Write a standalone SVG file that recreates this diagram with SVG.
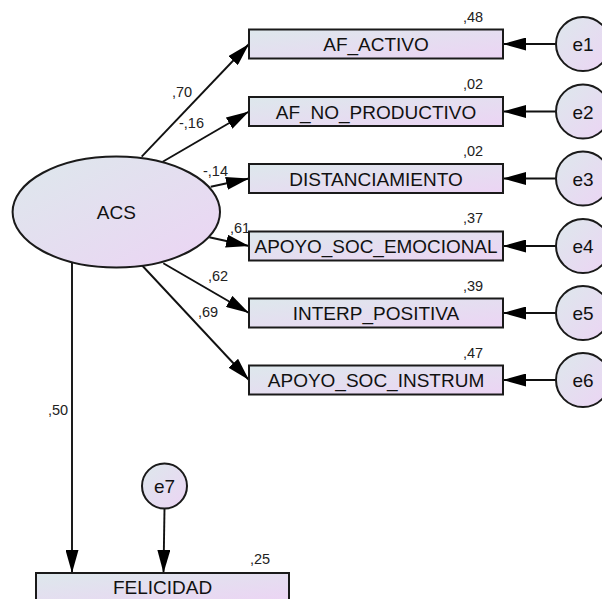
<svg xmlns="http://www.w3.org/2000/svg" width="602" height="599" viewBox="0 0 602 599">
<style>
.box{fill:url(#g);stroke:#1a1a1a;stroke-width:2}
.ell{fill:url(#g);stroke:#1a1a1a;stroke-width:2}
.lbl{font-family:"Liberation Sans",Arial,sans-serif;font-size:19px;fill:#111;text-anchor:middle}
.num{font-family:"Liberation Sans",Arial,sans-serif;font-size:14.5px;fill:#222}
.ln{stroke:#111;stroke-width:1.9;fill:none;marker-end:url(#ah)}
</style>
<defs>
<linearGradient id="g" x1="0" y1="0" x2="1" y2="1">
<stop offset="0" stop-color="#dde8ec"/>
<stop offset="1" stop-color="#ecd4f4"/>
</linearGradient>
<marker id="ah" viewBox="0 0 23 13" refX="23" refY="6.5" markerWidth="23" markerHeight="13" markerUnits="userSpaceOnUse" orient="auto">
<path d="M0,0 L23,6.5 L0,13 z" fill="#000"/>
</marker>
</defs>
<rect width="602" height="599" fill="#fff"/>
<g id="connectors">
<line class="ln" x1="141.7" y1="156.7" x2="249" y2="44"/>
<line class="ln" x1="162.7" y1="161.7" x2="249" y2="111.5"/>
<line class="ln" x1="210.7" y1="186.7" x2="249" y2="178.5"/>
<line class="ln" x1="209.3" y1="237.3" x2="249" y2="246"/>
<line class="ln" x1="163.3" y1="263.3" x2="249" y2="313"/>
<line class="ln" x1="141.7" y1="265" x2="249" y2="380"/>
<line class="ln" x1="72" y1="262.5" x2="72" y2="573"/>
<line class="ln" x1="164.5" y1="508.5" x2="163.5" y2="573"/>
<line class="ln" x1="556" y1="44" x2="503" y2="44"/>
<line class="ln" x1="556" y1="111.5" x2="503" y2="111.5"/>
<line class="ln" x1="556" y1="178.5" x2="503" y2="178.5"/>
<line class="ln" x1="556" y1="246" x2="503" y2="246"/>
<line class="ln" x1="556" y1="313" x2="503" y2="313"/>
<line class="ln" x1="556" y1="380" x2="503" y2="380"/>
<text class="num" x="172" y="97">,70</text>
<text class="num" x="179" y="128">-,16</text>
<text class="num" x="203" y="176">-,14</text>
<text class="num" x="230" y="233">,61</text>
<text class="num" x="208" y="280.5">,62</text>
<text class="num" x="198" y="316.5">,69</text>
<text class="num" x="48" y="415">,50</text>
</g>
<g id="ACS">
<ellipse class="ell" cx="116.3" cy="212" rx="103.7" ry="55.5"/>
<text class="lbl" x="116.3" y="219">ACS</text>
</g>
<g id="AF_ACTIVO">
<rect class="box" x="249" y="29.5" width="254" height="29"/>
<text class="lbl" x="376" y="51">AF_ACTIVO</text>
<text class="num" x="463" y="22">,48</text>
</g>
<g id="AF_NO_PRODUCTIVO">
<rect class="box" x="249" y="97" width="254" height="29"/>
<text class="lbl" x="376" y="118.5">AF_NO_PRODUCTIVO</text>
<text class="num" x="463" y="88.5">,02</text>
</g>
<g id="DISTANCIAMIENTO">
<rect class="box" x="249" y="164" width="254" height="29"/>
<text class="lbl" x="376" y="185.5">DISTANCIAMIENTO</text>
<text class="num" x="463" y="156">,02</text>
</g>
<g id="APOYO_SOC_EMOCIONAL">
<rect class="box" x="249" y="231.5" width="254" height="29"/>
<text class="lbl" x="376" y="253" textLength="243" lengthAdjust="spacingAndGlyphs">APOYO_SOC_EMOCIONAL</text>
<text class="num" x="463" y="222.5">,37</text>
</g>
<g id="INTERP_POSITIVA">
<rect class="box" x="249" y="298.5" width="254" height="29"/>
<text class="lbl" x="376" y="320">INTERP_POSITIVA</text>
<text class="num" x="463" y="290.5">,39</text>
</g>
<g id="APOYO_SOC_INSTRUM">
<rect class="box" x="249" y="365.5" width="254" height="29"/>
<text class="lbl" x="376" y="387">APOYO_SOC_INSTRUM</text>
<text class="num" x="463" y="358">,47</text>
</g>
<g id="FELICIDAD">
<rect class="box" x="36" y="573" width="253" height="29"/>
<text class="lbl" x="162.5" y="594">FELICIDAD</text>
<text class="num" x="250" y="564">,25</text>
</g>
<g id="e1"><circle class="ell" cx="583" cy="44" r="27"/><text class="lbl" x="583" y="51">e1</text></g>
<g id="e2"><circle class="ell" cx="583" cy="111.5" r="27"/><text class="lbl" x="583" y="118.5">e2</text></g>
<g id="e3"><circle class="ell" cx="583" cy="178.5" r="27"/><text class="lbl" x="583" y="185.5">e3</text></g>
<g id="e4"><circle class="ell" cx="583" cy="246" r="27"/><text class="lbl" x="583" y="253">e4</text></g>
<g id="e5"><circle class="ell" cx="583" cy="313" r="27"/><text class="lbl" x="583" y="320">e5</text></g>
<g id="e6"><circle class="ell" cx="583" cy="380" r="27"/><text class="lbl" x="583" y="387">e6</text></g>
<g id="e7"><circle class="ell" cx="164.5" cy="486" r="22.5"/><text class="lbl" x="164.5" y="493">e7</text></g>
</svg>
